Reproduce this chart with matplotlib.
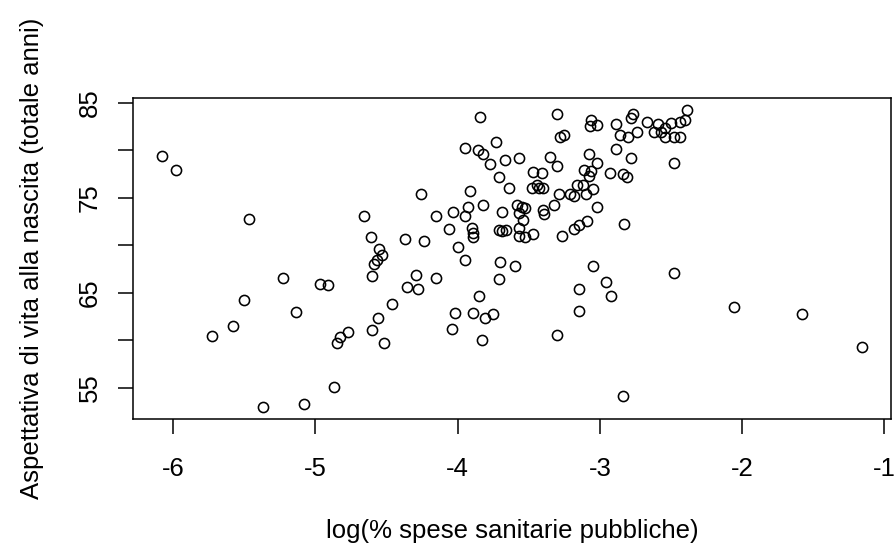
import matplotlib
matplotlib.use("Agg")
from matplotlib import pyplot as plt

plt.rcParams['font.family'] = ['Liberation Sans', 'DejaVu Sans']

# log(% spese sanitarie pubbliche) -> aspettativa di vita (anni)
# paesi a sinistra (spesa bassa)
x_left = [-6.08, -5.98, -5.47, -4.66, -4.61, -4.55, -4.53, -4.57, -4.59, -4.60,
          -5.23, -4.97, -4.91, -5.50, -5.14, -4.46, -4.56, -4.60, -4.77, -4.83,
          -4.85, -5.58, -5.73, -4.52, -4.87, -5.37, -5.08]
y_left = [79.40, 77.93, 72.75, 73.07, 70.88, 69.61, 69.02, 68.50, 68.07, 66.81,
          66.55, 65.89, 65.86, 64.27, 63.00, 63.77, 62.37, 61.10, 60.89, 60.32,
          59.73, 61.53, 60.40, 59.69, 55.04, 52.93, 53.29]

# gruppo centrale alto
x_mid = [-3.84, -3.73, -3.95, -3.86, -3.82, -3.77, -3.67, -3.57, -3.35, -3.30,
         -3.71, -3.47, -3.41, -3.64, -3.48, -3.44, -3.43, -3.40, -3.91, -4.26,
         -3.82, -3.93, -4.03, -4.15, -3.95, -3.69, -3.58, -3.55, -3.53, -3.57,
         -3.40, -3.39, -3.54, -3.32, -4.06, -3.90, -3.89, -3.89, -3.71, -3.69,
         -3.66, -3.57, -3.57, -3.53, -3.47, -4.37, -4.24, -4.00, -3.95, -3.70,
         -3.60]
y_mid = [83.49, 80.91, 80.28, 80.01, 79.65, 78.59, 78.95, 79.22, 79.33, 78.38,
         77.19, 77.75, 77.64, 75.99, 76.06, 76.34, 75.99, 76.06, 75.71, 75.39,
         74.30, 74.05, 73.46, 73.14, 73.10, 73.52, 74.23, 74.05, 73.94, 73.42,
         73.70, 73.25, 72.72, 74.23, 71.77, 71.83, 71.30, 70.88, 71.59, 71.54,
         71.59, 71.87, 70.96, 70.88, 71.24, 70.64, 70.50, 69.79, 68.50, 68.26,
         67.86]

# gruppo centrale basso
x_low = [-4.29, -4.15, -3.71, -4.36, -4.28, -3.85, -4.02, -3.89, -3.81, -3.75,
         -4.04, -3.83]
y_low = [66.91, 66.55, 66.41, 65.64, 65.43, 64.69, 62.86, 62.86, 62.33, 62.72,
         61.13, 59.97]

# paesi a destra (spesa alta)
x_right = [-3.30, -2.39, -2.77, -2.78, -3.06, -3.07, -3.02, -2.89, -2.67, -2.59,
           -2.62, -2.57, -2.54, -2.54, -2.50, -2.44, -2.40, -2.48, -2.44, -2.74,
           -2.86, -2.80, -3.28, -3.25, -2.89, -2.78, -3.08, -3.02, -2.48, -3.11,
           -3.06, -3.08, -2.93, -2.84, -2.81, -3.16, -3.12, -3.05, -3.10, -3.21,
           -3.18, -3.29, -3.02, -3.09, -3.15, -3.18, -3.27, -2.83,
           -3.05, -2.48, -2.96, -3.15, -2.92, -3.15, -3.30, -2.84,
           -2.055, -1.577, -1.157]
y_right = [83.84, 84.26, 83.84, 83.45, 83.21, 82.60, 82.68, 82.78, 83.03, 82.78,
           81.97, 81.97, 81.44, 82.36, 82.86, 83.03, 83.21, 81.38, 81.38, 81.97,
           81.59, 81.44, 81.38, 81.62, 80.11, 79.16, 79.61, 78.63, 78.70, 77.93,
           77.82, 77.32, 77.58, 77.47, 77.22, 76.34, 76.34, 75.89, 75.46, 75.39,
           75.23, 75.36, 73.99, 72.54, 72.19, 71.69, 70.96, 72.22,
           67.79, 67.12, 66.13, 65.43, 64.65, 63.04, 60.50, 54.16,
           63.46, 62.72, 59.31]

spesa = x_left + x_mid + x_low + x_right
aspettativa = y_left + y_mid + y_low + y_right

y_ticks = [55, 60, 65, 70, 75, 80, 85]
y_tick_labels = ["55", "", "65", "", "75", "", "85"]
x_ticks = [-6, -5, -4, -3, -2, -1]

fig = plt.figure(figsize=(8.96, 5.43), dpi=100)
ax = fig.add_axes([0.1488, 0.2278, 0.8453, 0.5912])

# cerchi vuoti come pch=1 di R
ax.plot(spesa, aspettativa, linestyle="none", marker="o", markersize=7.3,
        markerfacecolor="none", markeredgecolor="black", markeredgewidth=1.15)

ax.set_xlim(-6.281, -0.955)
ax.set_ylim(51.66, 85.50)

ax.set_xticks(x_ticks)
ax.set_xticklabels([str(t) for t in x_ticks])
ax.set_yticks(y_ticks)
ax.set_yticklabels(y_tick_labels, rotation=90, va="center")

ax.tick_params(axis="both", direction="out", length=11, width=1.1,
               labelsize=18.5, colors="black")
ax.tick_params(axis="x", pad=16)
ax.tick_params(axis="y", pad=11.5)
for sp in ax.spines.values():
    sp.set_linewidth(1.1)

ax.set_xlabel("log(% spese sanitarie pubbliche)", fontsize=18.5)
ax.xaxis.set_label_coords(0.5, -0.31)
ax.set_ylabel("Aspettativa di vita alla nascita (totale anni)", fontsize=18.5)
ax.yaxis.set_label_coords(-0.118, 0.5)

plt.savefig("out.png", dpi=100)
